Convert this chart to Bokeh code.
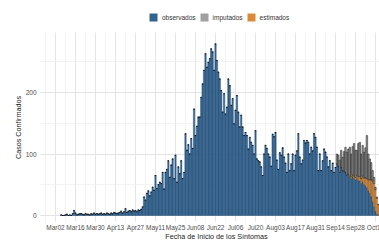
import math
import pandas as pd
from bokeh.plotting import figure
from bokeh.models import (ColumnDataSource, Legend, LegendItem, FixedTicker, Range1d,
                          BoxAnnotation, Label)
from bokeh.core.properties import value
from bokeh.embed import file_html
from bokeh.resources import INLINE

# ---------------- data ----------------
ref_date = pd.Timestamp("2020-03-02")
first_date = pd.Timestamp("2020-03-06")

observados = [
    1, 0, 0, 1, 2, 0, 1, 0, 3, 8, 4, 1, 2, 3, 3, 2, 1, 3, 2, 2, 1, 3, 2, 4, 2, 3,
    2, 3, 4, 2, 3, 2, 4, 3, 2, 4, 3, 5, 4, 3, 4, 5, 7, 4, 6, 11, 5, 7, 8, 6, 9, 7, 8, 6, 9, 8,
    10, 14, 30, 25, 36, 40, 32, 38, 46, 41, 65, 44, 50, 54, 52, 70, 43, 70, 75, 89, 62, 82, 92, 60, 98, 54, 79, 68, 89, 60,
    70, 133, 106, 115, 100, 125, 109, 173, 130, 145, 160, 160, 192, 214, 236, 263, 241, 249, 255, 271, 266, 236, 279, 252, 233, 222, 203, 168, 198, 165,
    176, 222, 211, 179, 190, 149, 171, 195, 168, 144, 163, 144, 130, 135, 130, 108, 127, 119, 114, 100, 138, 92, 89, 87, 79, 65, 100, 114, 109, 100,
    95, 80, 132, 128, 135, 90, 75, 102, 98, 110, 95, 85, 70, 100,
    73, 84, 100, 73, 98, 105, 133, 95, 84, 90, 122, 118, 122, 119, 100, 111, 105, 133, 127, 111, 73, 100, 73, 89, 108, 103, 95, 79, 89, 73, 85, 70, 78,
    84, 80, 70, 78, 73, 72, 70, 66, 65, 62, 60, 63, 60, 58, 60, 57, 56, 52, 55, 50, 48, 45, 40, 36, 30, 22, 14, 7, 2, 0,
]
# last 30 days only (earlier days are zero)
estimados_tail = [0, 0, 0, 0, 0, 0, 0, 0, 2, 2, 3, 3, 4, 4, 5, 6, 7, 8, 9, 11, 13, 15, 18, 22, 28, 34, 38, 35, 26, 18]
imputados_tail = [16, 18, 20, 28, 22, 32, 41, 37, 41, 47, 37, 46, 53, 44, 41, 54, 56, 40, 50, 42, 49, 70, 42, 34, 28, 17, 10, 4, 2, 0]

tick_dates = ["2020-03-02", "2020-03-16", "2020-03-30", "2020-04-13", "2020-04-27", "2020-05-11",
              "2020-05-25", "2020-06-08", "2020-06-22", "2020-07-06", "2020-07-20", "2020-08-03",
              "2020-08-17", "2020-08-31", "2020-09-14", "2020-09-28", "2020-10-12"]
tick_labels = ["Mar02", "Mar16", "Mar30", "Apr13", "Apr27", "May11", "May25", "Jun08", "Jun22",
               "Jul06", "Jul20", "Aug03", "Aug17", "Aug31", "Sep14", "Sep28", "Oct12"]
y_ticks = [0, 100, 200]
y_tick_labels = ["0", "100", "200"]
y_minor = [50, 150, 250]

series_names = ["observados", "imputados", "estimados"]
colors = {"observados": "#33638f", "imputados": "#a0a0a0", "estimados": "#d98b3a"}
x_title = "Fecha de Inicio de los Síntomas"
y_title = "Casos Confirmados"

# ---------------- build ----------------
n = len(observados)
off0 = (first_date - ref_date).days
xs = [off0 + i for i in range(n)]
estimados = [0] * (n - len(estimados_tail)) + estimados_tail
imputados = [0] * (n - len(imputados_tail)) + imputados_tail

src = ColumnDataSource(dict(x=xs, observados=observados, estimados=estimados, imputados=imputados))

major = [(pd.Timestamp(d) - ref_date).days for d in tick_dates]
minor = [m + 7 for m in major] + [major[0] - 7]

FONT = "Liberation Sans"
W, H = 379, 240
PX_X = 20 / 14.0      # pixels per day
PX_Y = 0.615          # pixels per case
# whole canvas is the frame; the panel is blanked around with white boxes
X0 = -10.5 - 40 / PX_X
X1 = X0 + W / PX_X
Y1 = 215 / PX_Y
Y0 = Y1 - H / PX_Y
PANEL_LEFT, PANEL_TOP, PANEL_BOTTOM = -10.5, 297.6, -9.8

p = figure(width=W, height=H, x_range=Range1d(X0, X1), y_range=Range1d(Y0, Y1),
           output_backend="svg", toolbar_location=None,
           min_border_left=0, min_border_right=0, min_border_top=0, min_border_bottom=0)
p.xaxis.visible = False
p.yaxis.visible = False

p.xgrid.ticker = FixedTicker(ticks=major, minor_ticks=minor)
p.ygrid.ticker = FixedTicker(ticks=y_ticks, minor_ticks=y_minor)
for g in (p.xgrid, p.ygrid):
    g.grid_line_color = "#e4e4e4"
    g.grid_line_width = 1
    g.minor_grid_line_color = "#f0f0f0"
    g.minor_grid_line_width = 0.8

# blank everything outside the panel (covers the grid only)
for kw in (dict(right=PANEL_LEFT), dict(bottom=PANEL_TOP), dict(top=PANEL_BOTTOM)):
    p.add_layout(BoxAnnotation(fill_color="white", fill_alpha=1.0, line_color=None,
                               level="underlay", **kw))

stack_order = ["observados", "estimados", "imputados"]
rs = p.vbar_stack(stack_order, x="x", width=1.0, source=src,
                  fill_color=[colors[s] for s in stack_order],
                  line_color="black", line_width=0.4)
rs[0].glyph.line_color = "#274f74"
rs[0].glyph.line_alpha = 1.0
rs[1].glyph.line_alpha = 0.45
rs[2].glyph.line_alpha = 0.9
rs[2].glyph.line_width = 0.5

# tick labels (placed on the data scales)
p.text(x=major, y=[PANEL_BOTTOM - 6 / PX_Y] * len(major), text=tick_labels,
       text_font=value(FONT), text_font_size="6.5px", text_color="#4d4d4d",
       text_align="center", text_baseline="middle")
p.text(x=[PANEL_LEFT - 4 / PX_X] * len(y_ticks), y=y_ticks, text=y_tick_labels,
       text_font=value(FONT), text_font_size="6.5px", text_color="#4d4d4d",
       text_align="right", text_baseline="middle")

# axis titles
p.add_layout(Label(x=X0 + 216 / PX_X, y=Y1 - 236 / PX_Y, text=x_title,
                   text_font=FONT, text_font_size="7.2px", text_color="#1a1a1a",
                   text_align="center", text_baseline="middle"))
p.add_layout(Label(x=X0 + 17.5 / PX_X, y=Y1 - 127 / PX_Y, text=y_title, angle=math.pi / 2,
                   text_font=FONT, text_font_size="7.2px", text_color="#1a1a1a",
                   text_align="center", text_baseline="middle"))

# legend swatches without outlines
dummy_src = ColumnDataSource(dict(x=[X0 - 100], top=[0]))
dummies = {}
for s in series_names:
    dummies[s] = p.vbar(x="x", top="top", width=1, fill_color=colors[s], line_color=None, source=dummy_src)

legend = Legend(items=[LegendItem(label=s, renderers=[dummies[s]]) for s in series_names],
                orientation="horizontal", location=(148, H - 22))
legend.label_text_font = FONT
legend.label_text_font_size = "6.5px"
legend.label_text_color = "#333333"
legend.glyph_width = 10
legend.glyph_height = 10
legend.label_height = 10
legend.label_standoff = 4
legend.spacing = 3
legend.padding = 0
legend.margin = 0
legend.border_line_color = None
legend.background_fill_alpha = 0
p.add_layout(legend, "center")

p.outline_line_color = None
p.background_fill_color = "white"
p.border_fill_color = "white"

open("out.html", "w").write(file_html(p, INLINE))
